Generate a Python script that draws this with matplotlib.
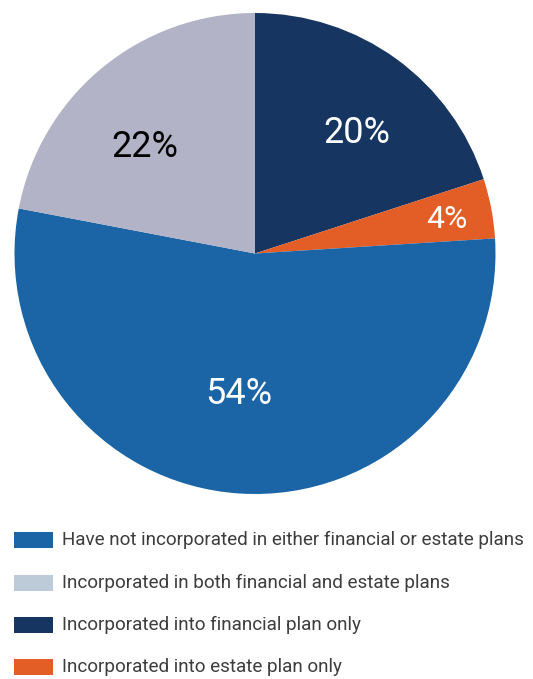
import numpy as np
import matplotlib
matplotlib.use('Agg')
import matplotlib.pyplot as plt
from matplotlib.patches import Rectangle

# pie data, clockwise from 12 o'clock
pie_values = [20, 4, 54, 22]
pie_colors = ['#163661', '#e35d27', '#1b65a6', '#b2b3c6']
pie_text_colors = ['white', 'white', 'white', 'black']
pie_label_dist = [0.67, 0.81, 0.57, 0.65]
pie_label_shift = [-3.3, 0, -3.1, 5.4]   # degrees away from wedge middle
pie_label_size = [26, 23, 26, 26]

legend_labels = [
    "Have not incorporated in either financial or estate plans",
    "Incorporated in both financial and estate plans",
    "Incorporated into financial plan only",
    "Incorporated into estate plan only",
]
legend_colors = ['#1b65a6', '#bdcbd8', '#163661', '#e35d27']

W, H = 533, 679
fig = plt.figure(figsize=(W / 100, H / 100), dpi=100)

cx, cy, r = 255, 253.5, 240.5
ax = fig.add_axes([(cx - r) / W, (H - cy - r) / H, 2 * r / W, 2 * r / H])
wedges, _ = ax.pie(pie_values, colors=pie_colors, startangle=90, counterclock=False,
                   radius=1, wedgeprops=dict(linewidth=0))
ax.set_xlim(-1, 1)
ax.set_ylim(-1, 1)
ax.axis('off')

for w, v, c, d, sh, s in zip(wedges, pie_values, pie_text_colors, pie_label_dist,
                             pie_label_shift, pie_label_size):
    ang = np.deg2rad((w.theta1 + w.theta2) / 2 + sh)
    ax.text(d * np.cos(ang), d * np.sin(ang), f"{v}%", color=c, fontsize=s,
            ha='center', va='center_baseline', family='Roboto')

# legend drawn by hand
rows_y = [540, 583, 625, 667]
for lab, col, y in zip(legend_labels, legend_colors, rows_y):
    fig.patches.append(Rectangle((14 / W, (H - y - 8) / H), 39 / W, 16 / H,
                                 transform=fig.transFigure, color=col, linewidth=0))
    fig.text(62 / W, (H - y) / H, lab, fontsize=13.6, color='#3d3d3d',
             family='Roboto', ha='left', va='center')

fig.savefig('out.png', dpi=100)
